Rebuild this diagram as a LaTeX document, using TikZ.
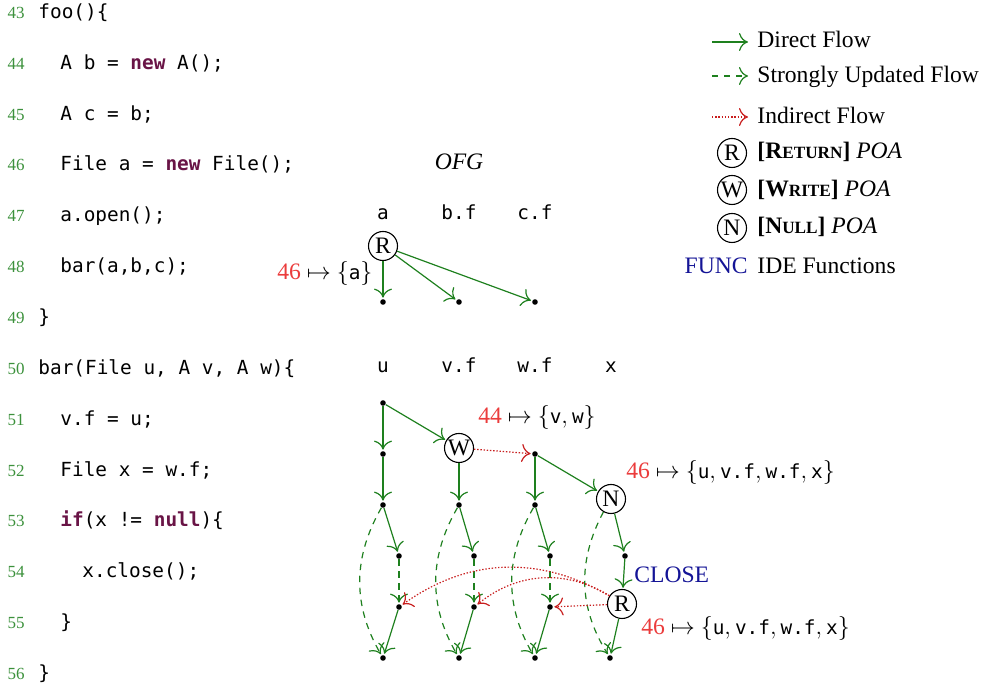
\documentclass[tikz,border=0pt]{standalone}
\usepackage{fontspec}
\setmainfont{Liberation Serif}
\setmonofont{DejaVu Sans Mono}
\definecolor{FlowGreen}{RGB}{30,128,30}
\definecolor{LineGreen}{RGB}{60,145,60}
\definecolor{NumRed}{RGB}{235,60,60}
\definecolor{IndRed}{RGB}{200,30,30}
\definecolor{KeyPurple}{RGB}{105,20,70}
\definecolor{FuncBlue}{RGB}{20,20,150}
\usepackage{tikz}
\usetikzlibrary{positioning,arrows.meta}
\newcommand{\txtsize}{\fontsize{11.8}{14}\selectfont}
\newcommand{\codesize}{\fontsize{9.7}{12}\selectfont\ttfamily}
\newcommand{\numsize}{\fontsize{8.5}{10}\selectfont}
\newcommand{\kw}[1]{\textcolor{KeyPurple}{\textbf{#1}}}
\newcommand{\fakesc}[1]{{\fontsize{8.6}{10}\selectfont #1}}
\newcommand{\site}[1]{\textcolor{NumRed}{#1}~$\mapsto$~}
\newcommand{\var}[1]{\mbox{\codesize #1}}

\begin{document}
\begin{tikzpicture}[x=0.5pt, y=-0.5pt,
      every node/.style={font=\txtsize},
      lineno/.style={anchor=base east, inner sep=0pt, font=\numsize, text=LineGreen},
      codeline/.style={anchor=base west, inner sep=0pt, font=\codesize},
      varname/.style={anchor=base, inner sep=0pt, font=\codesize},
      lbl/.style={anchor=base west, inner sep=0pt},
      poa/.style={draw, circle, inner sep=0pt, minimum size=14.5pt, line width=0.55pt},
      vdot/.style={circle, fill, inner sep=0pt, minimum size=2.8pt},
      tip/.style={-{To[length=4.5pt,width=9pt]}},
      dflow/.style={tip, draw=FlowGreen, line width=0.6pt, shorten >=0.6pt},
      sflow/.style={dflow, dash pattern=on 3.2pt off 2.8pt},
      iflow/.style={tip, draw=IndRed, line width=0.6pt, dash pattern=on 0.7pt off 0.9pt, shorten >=0.6pt}
  ]
    \useasboundingbox (0,0) rectangle (991,688);
    % code listing
    \node[lineno] (n43) at (25,19) {43};
    \node[codeline] (c43) at (38,19) {foo()\{};
    \node[lineno] (n44) at (25,70) {44};
    \node[codeline] (c44) at (60,70) {A b = \kw{new} A();};
    \node[lineno] (n45) at (25,121) {45};
    \node[codeline] (c45) at (60,121) {A c = b;};
    \node[lineno] (n46) at (25,171) {46};
    \node[codeline] (c46) at (60,171) {File a = \kw{new} File();};
    \node[lineno] (n47) at (25,222) {47};
    \node[codeline] (c47) at (60,222) {a.open();};
    \node[lineno] (n48) at (25,273) {48};
    \node[codeline] (c48) at (60,273) {bar(a,b,c);};
    \node[lineno] (n49) at (25,324) {49};
    \node[codeline] (c49) at (38,324) {\}};
    \node[lineno] (n50) at (25,375) {50};
    \node[codeline] (c50) at (38,375) {bar(File u, A v, A w)\{};
    \node[lineno] (n51) at (25,426) {51};
    \node[codeline] (c51) at (60,426) {v.f = u;};
    \node[lineno] (n52) at (25,477) {52};
    \node[codeline] (c52) at (60,477) {File x = w.f;};
    \node[lineno] (n53) at (25,527) {53};
    \node[codeline] (c53) at (60,527) {\kw{if}(x != \kw{null})\{};
    \node[lineno] (n54) at (25,578) {54};
    \node[codeline] (c54) at (82,578) {x.close();};
    \node[lineno] (n55) at (25,629) {55};
    \node[codeline] (c55) at (60,629) {\}};
    \node[lineno] (n56) at (25,680) {56};
    \node[codeline] (c56) at (38,680) {\}};

    % OFG for foo
    \node[anchor=base] (ofg) at (459,170) {\textit{OFG}};
    \node[varname] (la) at (383,220) {a};
    \node[varname] (lbf) at (459,220) {b.f};
    \node[varname] (lcf) at (535,220) {c.f};
    \node[poa] (ra) at (383,246) {R};
    \node[vdot] (da) at (383,302) {};
    \node[vdot] (db) at (459,302) {};
    \node[vdot] (dc) at (535,302) {};
    \node[lbl] (sa) at (277,280) {\site{46}$\{\var{a}\}$};
    \draw[dflow] (ra) -- (da);
    \draw[dflow] (ra) -- (db);
    \draw[dflow] (ra) -- (dc);

    % OFG for bar
    \node[varname] (lu) at (383,373) {u};
    \node[varname] (lvf) at (459,373) {v.f};
    \node[varname] (lwf) at (535,373) {w.f};
    \node[varname] (lx) at (611,373) {x};
    \node[vdot] (u0) at (383,403) {};
    \node[vdot] (u1) at (383,454) {};
    \node[vdot] (u2) at (383,505) {};
    \node[vdot] (u3) at (399,556) {};
    \node[vdot] (u4) at (399,607) {};
    \node[vdot] (u5) at (383,658) {};
    \node[poa] (wr) at (459,448) {W};
    \node[vdot] (v2) at (459,505) {};
    \node[vdot] (v3) at (474,556) {};
    \node[vdot] (v4) at (474,607) {};
    \node[vdot] (v5) at (459,658) {};
    \node[vdot] (w1) at (535,454) {};
    \node[vdot] (w2) at (535,505) {};
    \node[vdot] (w3) at (550,556) {};
    \node[vdot] (w4) at (550,607) {};
    \node[vdot] (w5) at (535,658) {};
    \node[poa] (nn) at (611,499) {N};
    \node[vdot] (x3) at (625,556) {};
    \node[poa] (rr) at (622,604) {R};
    \node[vdot] (x5) at (610,658) {};
    \node[lbl] (sw) at (478,424) {\site{44}$\{\var{v},\var{w}\}$};
    \node[lbl] (sn) at (626,479) {\site{46}$\{\var{u},\var{v.f},\var{w.f},\var{x}\}$};
    \node[lbl] (close) at (634,583) {\textcolor{FuncBlue}{CLOSE}};
    \node[lbl] (sr) at (641,635) {\site{46}$\{\var{u},\var{v.f},\var{w.f},\var{x}\}$};
    \draw[dflow] (u0) -- (u1);
    \draw[dflow] (u1) -- (u2);
    \draw[dflow] (u2) -- (u3);
    \draw[sflow] (u3) -- (u4);
    \draw[dflow] (u4) -- (u5);
    \draw[sflow] (u2) to[bend right=30] (u5);
    \draw[dflow] (u0) -- (wr);
    \draw[dflow] (wr) -- (v2);
    \draw[dflow] (v2) -- (v3);
    \draw[sflow] (v3) -- (v4);
    \draw[dflow] (v4) -- (v5);
    \draw[sflow] (v2) to[bend right=30] (v5);
    \draw[iflow] (wr) -- (w1);
    \draw[dflow] (w1) -- (w2);
    \draw[dflow] (w1) -- (nn);
    \draw[dflow] (w2) -- (w3);
    \draw[sflow] (w3) -- (w4);
    \draw[dflow] (w4) -- (w5);
    \draw[sflow] (w2) to[bend right=30] (w5);
    \draw[dflow] (nn) -- (x3);
    \draw[dflow] (x3) -- (rr);
    \draw[dflow] (rr) -- (x5);
    \draw[sflow] (nn) to[bend right=30] (x5);
    \draw[iflow] (rr) -- (w4);
    \draw[iflow] (rr) to[bend right=35] (v4);
    \draw[iflow] (rr) to[bend right=33] (u4);

    % legend
    \coordinate (k1a) at (712,42);
    \coordinate (k1b) at (748,42);
    \coordinate (k2a) at (712,76);
    \coordinate (k2b) at (748,76);
    \coordinate (k3a) at (712,117);
    \coordinate (k3b) at (748,117);
    \draw[dflow, shorten >=0pt] (k1a) -- (k1b);
    \draw[sflow, shorten >=0pt] (k2a) -- (k2b);
    \draw[iflow, shorten >=0pt] (k3a) -- (k3b);
    \node[lbl] (t1) at (757,48) {Direct Flow};
    \node[lbl] (t2) at (757,83) {Strongly Updated Flow};
    \node[lbl] (t3) at (757,124) {Indirect Flow};
    \node[poa] (kr) at (732,153) {R};
    \node[lbl] (t4) at (757,159) {\textbf{[R\fakesc{ETURN}]} \textit{POA}};
    \node[poa] (kw) at (732,190) {W};
    \node[lbl] (t5) at (757,197) {\textbf{[W\fakesc{RITE}]} \textit{POA}};
    \node[poa] (kn) at (732,228) {N};
    \node[lbl] (t6) at (757,234) {\textbf{[N\fakesc{ULL}]} \textit{POA}};
    \node[anchor=base east, inner sep=0pt] (kf) at (748,274) {\textcolor{FuncBlue}{FUNC}};
    \node[lbl] (t7) at (757,274) {IDE Functions};
  \end{tikzpicture}
\end{document}
